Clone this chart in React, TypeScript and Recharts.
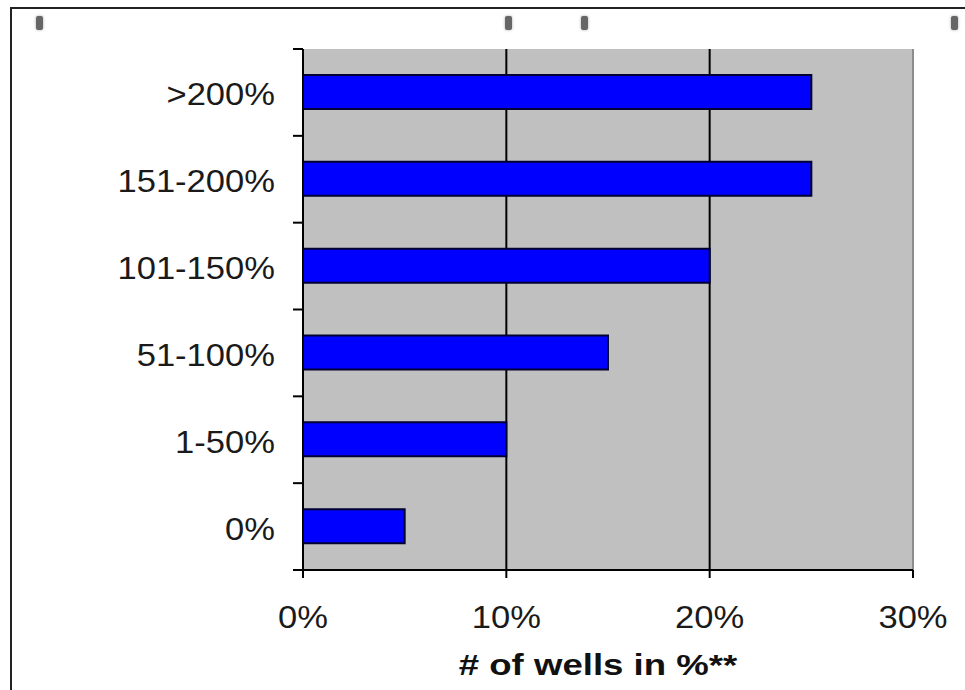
import { Bar, BarChart, CartesianGrid, ReferenceLine, XAxis, YAxis } from "recharts";

const categories = [">200%", "151-200%", "101-150%", "51-100%", "1-50%", "0%"];
const wellsPct = [25, 25, 20, 15, 10, 5];
const xTicks = [0, 10, 20, 30];
const xTitle = "# of wells in %**";

const data = categories.map((range, i) => ({ range, wells: wellsPct[i] }));

const W = 965;
const H = 690;
const PLOT = { left: 303, top: 49, right: 913, bottom: 570 };
const FONT = "'Liberation Sans', Arial, sans-serif";
// half of one category band, used for the Excel-style boundary tick marks
const halfBand = (PLOT.bottom - PLOT.top) / categories.length / 2;

function YTick(props: any) {
  const { x, y, payload, index } = props;
  return (
    <g>
      <line x1={x - 10} x2={x} y1={y - halfBand} y2={y - halfBand} stroke="#000" strokeWidth={2} />
      {index === categories.length - 1 && (
        <line x1={x - 10} x2={x} y1={y + halfBand} y2={y + halfBand} stroke="#000" strokeWidth={2} />
      )}
      <text
        transform={`translate(${x - 28},${y + 13}) scale(1.08,1)`}
        textAnchor="end"
        fontSize={32}
        fontFamily={FONT}
        fill="#1a1a1a"
      >
        {payload.value}
      </text>
    </g>
  );
}

function XTick(props: any) {
  const { x, y, payload } = props;
  return (
    <text
      transform={`translate(${x},${y + 48}) scale(1.08,1)`}
      textAnchor="middle"
      fontSize={32}
      fontFamily={FONT}
      fill="#1a1a1a"
    >
      {`${payload.value}%`}
    </text>
  );
}

function XTitle(props: any) {
  const vb = props.viewBox;
  return (
    <text
      transform={`translate(${vb.x + vb.width / 2 - 10},${vb.y + 105}) scale(1.22,1)`}
      textAnchor="middle"
      fontSize={30}
      fontWeight="bold"
      fontFamily={FONT}
      fill="#111"
    >
      {xTitle}
    </text>
  );
}

const iconXs = [36, 505, 581, 951];

export default function App() {
  return (
    <div style={{ position: "absolute", left: 0, top: 0, width: W, height: H, background: "#fff", overflow: "hidden" }}>
      <div
        style={{
          position: "absolute",
          left: 10,
          top: 7,
          right: 0,
          bottom: 0,
          borderTop: "2px solid #222",
          borderLeft: "2px solid #222",
        }}
      />
      {iconXs.map((x) => (
        <div
          key={x}
          style={{
            position: "absolute",
            left: x,
            top: 16,
            width: 7,
            height: 14,
            background: "#666",
            borderRadius: 2,
            boxShadow: "0 0 3px #aaa",
          }}
        />
      ))}
      <div style={{ position: "absolute", left: 0, top: 0 }}>
        <BarChart
          width={W}
          height={H}
          data={data}
          layout="vertical"
          margin={{ top: PLOT.top, right: W - PLOT.right, left: 0, bottom: 0 }}
        >
          <CartesianGrid fill="#c0c0c0" horizontal={false} stroke="#000" strokeWidth={2} />
          <XAxis
            type="number"
            domain={[0, 30]}
            ticks={xTicks}
            height={H - PLOT.bottom}
            tickSize={8}
            tickMargin={2}
            axisLine={{ stroke: "#000", strokeWidth: 2 }}
            tickLine={{ stroke: "#000", strokeWidth: 2 }}
            tick={<XTick />}
            label={XTitle}
          />
          <YAxis
            type="category"
            dataKey="range"
            width={PLOT.left}
            tickSize={0}
            tickMargin={0}
            tickLine={false}
            axisLine={{ stroke: "#000", strokeWidth: 2 }}
            tick={<YTick />}
            interval={0}
          />
          <ReferenceLine x={30} stroke="#8c8c8c" strokeWidth={2} />
          <Bar dataKey="wells" fill="#0000ff" stroke="#000033" strokeWidth={2} barSize={34} isAnimationActive={false} />
        </BarChart>
      </div>
    </div>
  );
}
